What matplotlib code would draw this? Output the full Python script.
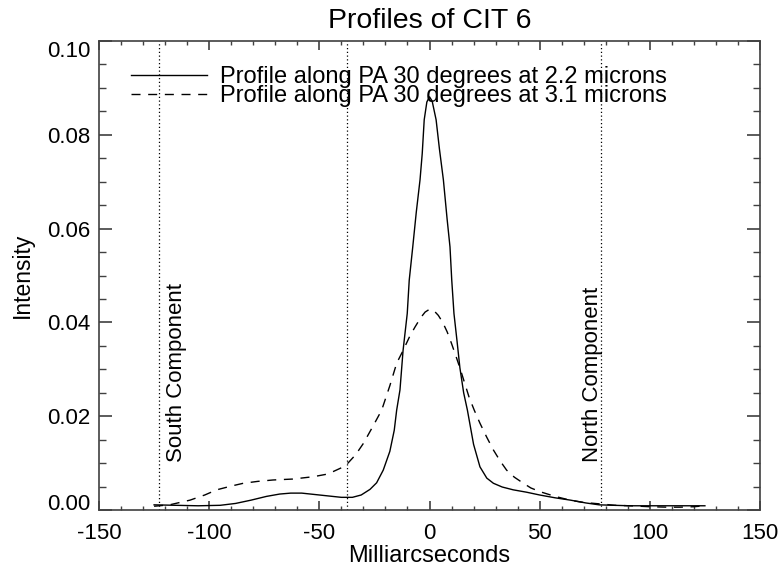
import numpy as np
import matplotlib
matplotlib.use("Agg")
import matplotlib.pyplot as plt

plt.rcParams['font.family'] = ['Liberation Sans', 'DejaVu Sans']

# --- data ---
x_22 = [-125, -115, -105, -95, -88, -81, -74, -68, -63, -58, -52, -46, -40, -35,
        -31, -27, -24, -21, -18, -16, -14.9, -13.4, -12, -10.1, -9.2, -7.6, -6,
        -4.3, -3.3, -2.4, -1.2, 0, 1.2, 3, 4.5, 6.3, 8, 9.3, 10.1, 11.1, 12.5,
        13.8, 15.5, 17.2, 20, 22.9, 26, 29, 33, 38, 44, 50, 57, 64, 71, 77, 84,
        91, 100, 110, 118, 125]
y_22 = [0.0011, 0.0010, 0.0009, 0.0010, 0.0014, 0.0021, 0.0029, 0.0034, 0.0036,
        0.0036, 0.0033, 0.0030, 0.0027, 0.0027, 0.0032, 0.0044, 0.0058, 0.0085,
        0.0125, 0.0170, 0.0213, 0.0256, 0.0340, 0.0419, 0.0490, 0.0561, 0.0635,
        0.0704, 0.0760, 0.0832, 0.0870, 0.0881, 0.0872, 0.0832, 0.0770, 0.0704,
        0.0620, 0.0561, 0.0490, 0.0419, 0.0360, 0.0303, 0.0250, 0.0213, 0.0140,
        0.0092, 0.0068, 0.0057, 0.0049, 0.0043, 0.0038, 0.0032, 0.0026, 0.0021,
        0.0015, 0.0011, 0.0010, 0.0009, 0.0009, 0.0009, 0.0009, 0.0009]

x_31 = [-125, -118, -108.7, -102, -96.6, -90, -84.5, -78, -71, -62, -52.7, -47,
        -43.7, -40, -37.4, -33.5, -30, -25.5, -21.7, -18, -14.9, -12, -9, -6.6,
        -4, -2, 0, 2, 4, 6, 8, 10, 12, 13.8, 16, 18, 20.3, 22.9, 26, 29, 32, 35,
        38.5, 42.6, 46, 50.2, 57, 63.8, 70, 77.4, 84, 91, 100, 108, 113.7, 120, 125]
y_31 = [0.0008, 0.0011, 0.0021, 0.0032, 0.0043, 0.0051, 0.0057, 0.0061, 0.0064,
        0.0066, 0.0071, 0.0076, 0.0082, 0.0090, 0.0098, 0.0118, 0.0142, 0.0180,
        0.0213, 0.0265, 0.0313, 0.0340, 0.0370, 0.0390, 0.0410, 0.0422, 0.0428,
        0.0425, 0.0415, 0.0400, 0.0380, 0.0355, 0.0328, 0.0303, 0.0270, 0.0240,
        0.0213, 0.0185, 0.0155, 0.0128, 0.0105, 0.0085, 0.0070, 0.0057, 0.0047,
        0.0039, 0.0029, 0.0021, 0.0016, 0.0013, 0.0010, 0.0009, 0.0007, 0.0006,
        0.0006, 0.0007, 0.0009]

marker_x = [-122.7, -37.5, 77.7]
labels = ['Profile along PA 30 degrees at 2.2 microns',
          'Profile along PA 30 degrees at 3.1 microns']
xticks = [-150, -100, -50, 0, 50, 100, 150]
yticks = [0.00, 0.02, 0.04, 0.06, 0.08, 0.10]

# --- plot ---
fig = plt.figure(figsize=(7.8, 5.71), dpi=100)
ax = fig.add_axes([99 / 780, 61 / 571, 661 / 780, 469 / 571])

ax.plot(x_22, y_22, color='black', lw=1.0, label=labels[0])
ax.plot(x_31, y_31, color='black', lw=1.0, dashes=(6.5, 5.5), label=labels[1])

for xv in marker_x:
    ax.axvline(xv, color='black', lw=0.9, linestyle=(0, (1, 2)))

ax.text(-115, 0.0102, 'South Component', rotation=90, ha='center', va='bottom', fontsize=16)
ax.text(74, 0.0102, 'North Component', rotation=90, ha='center', va='bottom', fontsize=16)

ax.set_xlim(-150, 150)
ax.set_ylim(0, 0.10)
ax.set_xticks(xticks)
ax.set_xticklabels([str(t) for t in xticks])
ax.set_yticks(yticks)
ax.set_yticklabels([f'{t:.2f}' for t in yticks])
ax.set_xticks(np.arange(-150, 151, 10), minor=True)
ax.set_yticks(np.arange(0, 0.1001, 0.005), minor=True)

ax.tick_params(axis='both', which='both', direction='in', top=True, right=True,
               colors='#404040', labelcolor='black', labelsize=16)
ax.tick_params(axis='x', which='major', length=6.5, width=1.2, pad=9.5)
ax.tick_params(axis='x', which='minor', length=3.2, width=1.0)
ax.tick_params(axis='y', which='major', length=9.4, width=1.2, pad=6)
ax.tick_params(axis='y', which='minor', length=5, width=1.0)
for s in ax.spines.values():
    s.set_color('#404040')
    s.set_linewidth(1.2)

ylabs = ax.get_yticklabels()
ylabs[0].set_va('baseline')
ylabs[-1].set_va('top')

ax.set_xlabel('Milliarcseconds', fontsize=17, labelpad=0.5)
ax.set_ylabel('Intensity', fontsize=16.5, labelpad=10)
ax.set_title('Profiles of CIT 6', fontsize=20.5, pad=9)

ax.legend(loc='upper left', bbox_to_anchor=(0.024, 0.981), frameon=False,
          fontsize=17, handlelength=3.2, handletextpad=0.55, labelspacing=-0.14,
          borderpad=0.2)

fig.savefig('out.png', dpi=100)
